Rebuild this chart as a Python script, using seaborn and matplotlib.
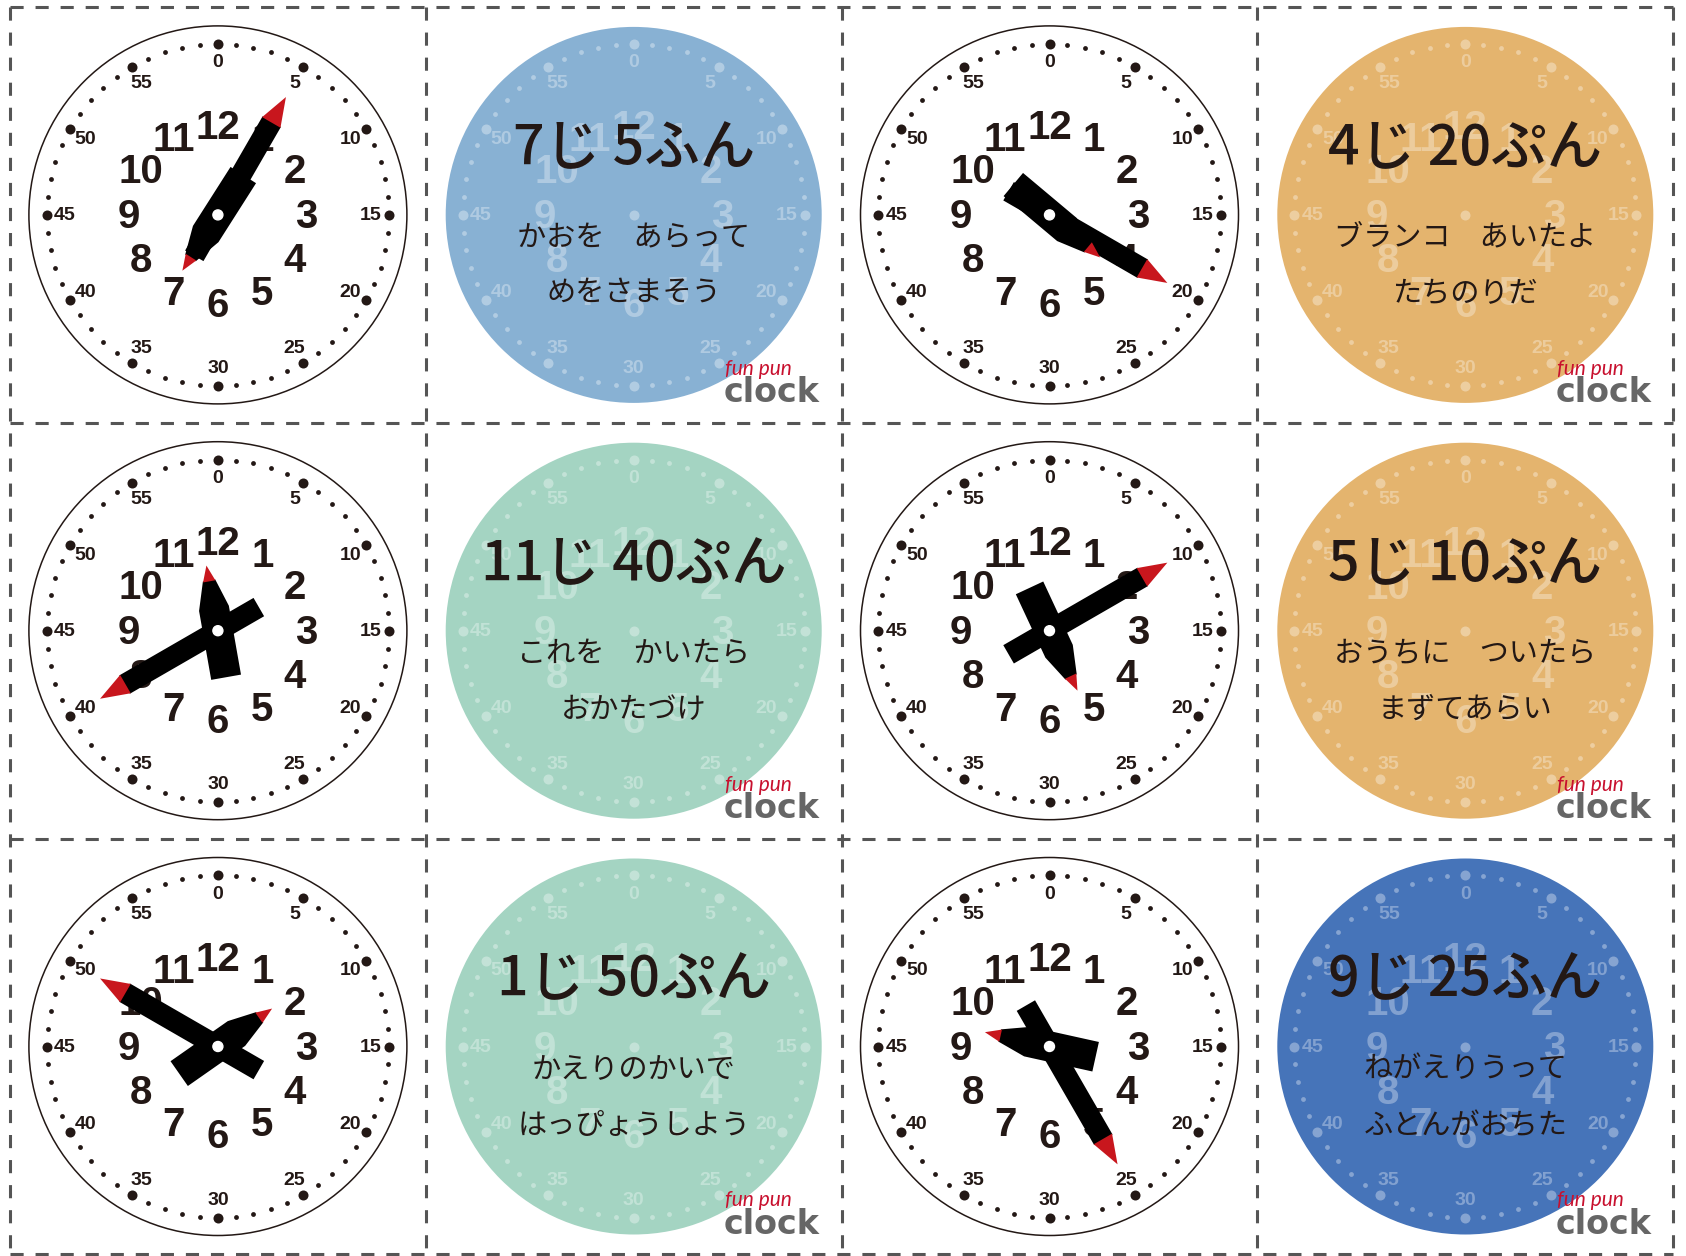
import numpy as np
import pandas as pd
import matplotlib.pyplot as plt
import seaborn as sns
from matplotlib.patches import Circle

# clocks (hour, minute) and their matching cards, in reading order
clock_hours = [7, 4, 11, 5, 1, 9]
clock_minutes = [5, 20, 40, 10, 50, 25]
card_titles = ["7じ 5ふん", "4じ 20ぷん", "11じ 40ぷん", "5じ 10ぷん", "1じ 50ぷん", "9じ 25ふん"]
card_line1 = ["かおを　あらって", "ブランコ　あいたよ", "これを　かいたら",
              "おうちに　ついたら", "かえりのかいで", "ねがえりうって"]
card_line2 = ["めをさまそう", "たちのりだ", "おかたづけ", "まずてあらい", "はっぴょうしよう", "ふとんがおちた"]
card_colors = ["#88b1d3", "#e4b46e", "#a4d4c2", "#e4b46e", "#a4d4c2", "#4674b9"]
hour_labels = ["1", "2", "3", "4", "5", "6", "7", "8", "9", "10", "11", "12"]
minute_labels = ["0", "5", "10", "15", "20", "25", "30", "35", "40", "45", "50", "55"]

W, H = 1686, 1256
X0, Y0, CELL = 10, 7, 415.8
R = 189
INK = "#231815"
NUM_FONT = ["Liberation Sans Narrow", "Liberation Sans", "DejaVu Sans"]
JP_FONT = ["Noto Sans CJK JP", "DejaVu Sans"]

sns.set_theme(style="white")
plt.rcParams["font.family"] = JP_FONT

fig = plt.figure(figsize=(W / 100, H / 100), dpi=100)
ax = fig.add_axes([0, 0, 1, 1])


def polar(cx, cy, r, ang):
    a = np.deg2rad(ang)
    return cx + r * np.sin(a), cy - r * np.cos(a)


def shape(cx, cy, ang, pts):
    a = np.deg2rad(ang)
    d = np.array([np.sin(a), -np.cos(a)])
    n = np.array([np.cos(a), np.sin(a)])
    xy = np.array([[cx, cy] + u * R * d + v * R * n for u, v in pts])
    return xy[:, 0], xy[:, 1]


big_dots, small_dots = [], []


def dial(cx, cy, color, alpha, faint):
    for k in range(60):
        x, y = polar(cx, cy, 0.905 * R, k * 6)
        (big_dots if k % 5 == 0 else small_dots).append((x, y, faint))
    for k, lab in enumerate(minute_labels):
        x, y = polar(cx, cy, 0.81 * R, k * 30)
        ax.text(x, y + 1, lab, ha="center", va="center", fontsize=14, fontweight="bold",
                family=NUM_FONT, color=color, alpha=alpha, zorder=3)
    for k, lab in enumerate(hour_labels):
        x, y = polar(cx, cy, 0.47 * R, (k + 1) * 30)
        ax.text(x, y + 2, lab, ha="center", va="center", fontsize=29, fontweight="bold",
                family=NUM_FONT, color=color, alpha=alpha, zorder=3)


for i in range(6):
    row, pair = divmod(i, 2)
    cy = Y0 + CELL * (row + 0.5)

    # --- clock face
    cx = X0 + CELL * (pair * 2 + 0.5)
    ax.add_patch(Circle((cx, cy), R, fill=False, ec=INK, lw=1.1, zorder=2))
    dial(cx, cy, INK, 1.0, False)

    m_ang = clock_minutes[i] * 6
    h_ang = (clock_hours[i] % 12) * 30 + clock_minutes[i] * 0.5
    ax.fill(*shape(cx, cy, m_ang, [(-0.25, -0.056), (0.57, -0.056), (0.57, 0.056), (-0.25, 0.056)]),
            color="black", lw=0, zorder=5)
    ax.fill(*shape(cx, cy, m_ang, [(0.565, -0.056), (0.72, 0), (0.565, 0.056)]),
            color="#c8161d", lw=0, zorder=5)
    ax.fill(*shape(cx, cy, h_ang, [(-0.25, -0.08), (0.12, -0.08), (0.27, -0.033),
                                   (0.27, 0.033), (0.12, 0.08), (-0.25, 0.08)]),
            color="black", lw=0, zorder=6)
    ax.fill(*shape(cx, cy, h_ang, [(0.265, -0.033), (0.35, 0), (0.265, 0.033)]),
            color="#c8161d", lw=0, zorder=6)
    ax.add_patch(Circle((cx, cy), 5, color="white", zorder=7))

    # --- answer card
    cx = X0 + CELL * (pair * 2 + 1.5)
    ax.add_patch(Circle((cx, cy), 188, color=card_colors[i], lw=0, zorder=1))
    dial(cx, cy, "white", 0.33, True)
    big_dots.append((cx, cy, True))
    ax.text(cx, cy - 66, card_titles[i], ha="center", va="center", fontsize=40,
            fontweight="medium", color=INK, zorder=8)
    ax.text(cx, cy + 23, card_line1[i], ha="center", va="center", fontsize=21,
            color=INK, zorder=8)
    ax.text(cx, cy + 79, card_line2[i], ha="center", va="center", fontsize=21,
            color=INK, zorder=8)
    ax.text(cx + 125, cy + 154, "fun pun", ha="center", va="center", fontsize=15,
            style="italic", family=["Lato", "DejaVu Sans"], color="#c8102e", zorder=9)
    ax.text(cx + 138, cy + 178, "clock", ha="center", va="center", fontsize=24,
            fontweight="heavy", family=["DejaVu Sans"], color="#666666", zorder=9)

dots = pd.DataFrame(big_dots, columns=["x", "y", "faint"])
sdots = pd.DataFrame(small_dots, columns=["x", "y", "faint"])
for df, s in [(dots, 52), (sdots, 12)]:
    sns.scatterplot(data=df[~df.faint], x="x", y="y", s=s, color=INK, linewidth=0,
                    legend=False, ax=ax, zorder=4)
    sns.scatterplot(data=df[df.faint], x="x", y="y", s=s, color="white", alpha=0.35,
                    linewidth=0, legend=False, ax=ax, zorder=4)

# dashed cut lines
grid_x = [X0 + CELL * k for k in range(5)]
grid_y = [Y0 + CELL * k for k in range(4)]
for gx in grid_x:
    ax.plot([gx, gx], [grid_y[0], grid_y[-1]], color="#555555", lw=2.2,
            linestyle=(0, (4.3, 3.9)), zorder=10)
for gy in grid_y:
    ax.plot([grid_x[0], grid_x[-1]], [gy, gy], color="#555555", lw=2.2,
            linestyle=(0, (4.3, 3.9)), zorder=10)

ax.set_xlim(0, W)
ax.set_ylim(H, 0)
ax.set_aspect("equal")
ax.axis("off")
fig.savefig("out.png", dpi=100, facecolor="white")
